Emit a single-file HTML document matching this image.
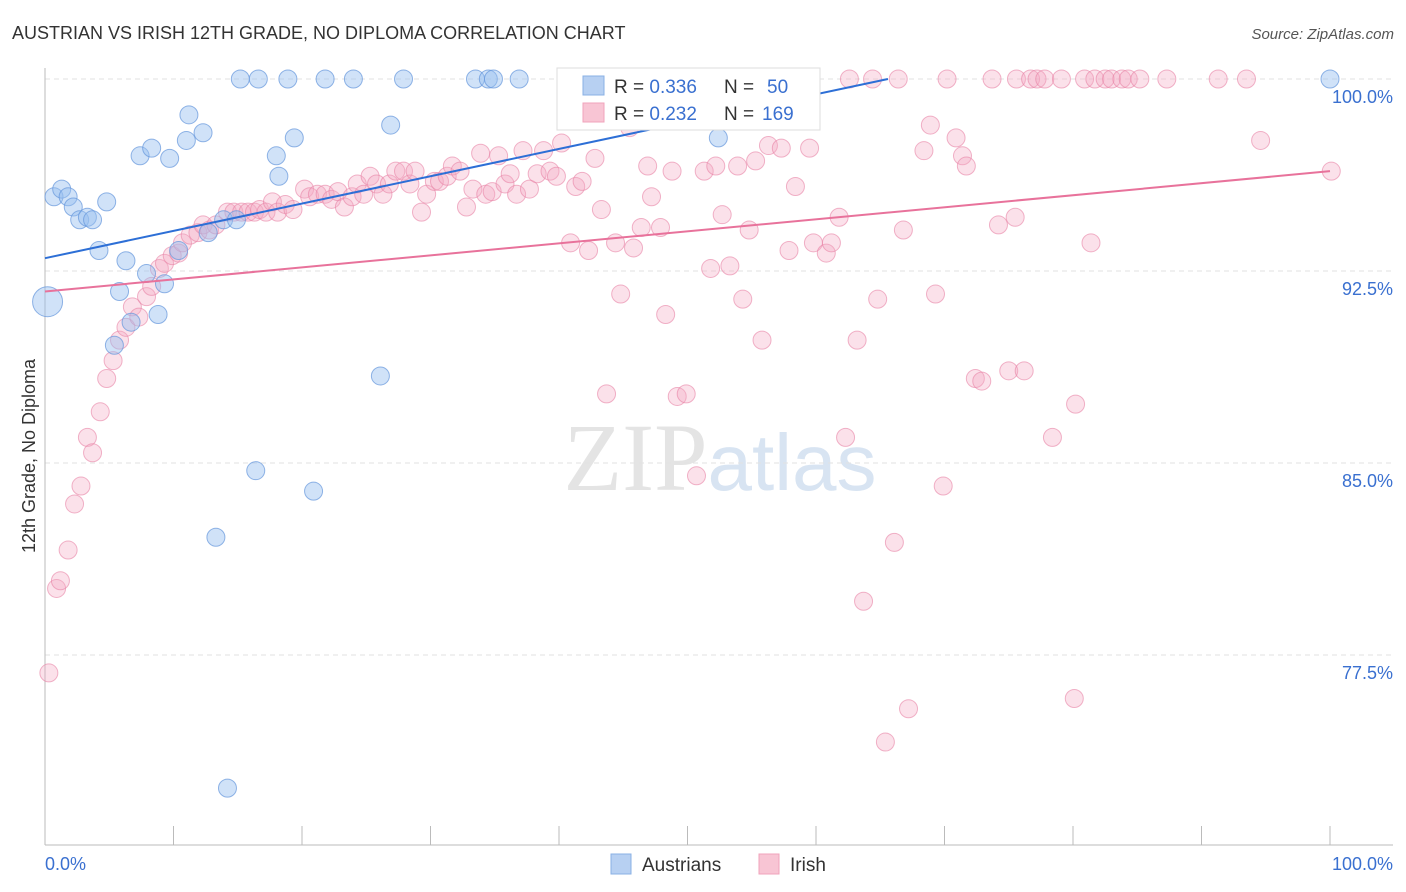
<!DOCTYPE html>
<html><head><meta charset="utf-8"><style>
body{margin:0;background:#fff;font-family:"Liberation Sans",sans-serif;}
svg{display:block}
</style></head><body>
<svg id="chart" width="1406" height="892">
<text x="12" y="39" font-size="18" fill="#333">AUSTRIAN VS IRISH 12TH GRADE, NO DIPLOMA CORRELATION CHART</text>
<text x="1394" y="39" font-size="15" fill="#555" font-style="italic" text-anchor="end">Source: ZipAtlas.com</text>
<text x="720" y="490" font-size="96" fill="#e4e4e4" text-anchor="middle" font-family="Liberation Serif,serif">ZIP<tspan fill="#d8e4f2" font-family="Liberation Sans,sans-serif" font-size="80">atlas</tspan></text>
<text transform="translate(35,456) rotate(-90)" font-size="18" fill="#333" text-anchor="middle">12th Grade, No Diploma</text>
<g id="grid"></g><g id="pts"></g><g id="trend"></g>
<g>
<rect x="557" y="68" width="263" height="62" fill="#fff" stroke="#ddd"/>
<rect x="583" y="76" width="21" height="19" fill="#b7d0f2" stroke="#8ab0e4"/>
<rect x="583" y="103" width="21" height="19" fill="#f8c5d4" stroke="#f0a3bb"/>
<text x="614" y="93" font-size="19" fill="#333">R = <tspan fill="#3a70d0">0.336</tspan><tspan x="724">N = </tspan><tspan x="767" fill="#3a70d0">50</tspan></text>
<text x="614" y="120" font-size="19" fill="#333">R = <tspan fill="#3a70d0">0.232</tspan><tspan x="724">N = </tspan><tspan x="762" fill="#3a70d0">169</tspan></text>
</g>
<g>
<rect x="611" y="854" width="20" height="20" fill="#b7d0f2" stroke="#8ab0e4"/>
<text x="642" y="871" font-size="19" fill="#333">Austrians</text>
<rect x="759" y="854" width="20" height="20" fill="#f8c5d4" stroke="#f0a3bb"/>
<text x="790" y="871" font-size="19" fill="#333">Irish</text>
</g>
</svg>
<script>
const yTicks=[100,92.5,85,77.5];
const yTickLabels=["100.0%","92.5%","85.0%","77.5%"];
const xTickLabels=["0.0%","100.0%"];
const blueX=[15.2,16.6,18.9,21.8,24.0,27.9,33.5,34.5,34.9,36.9,100,41.4,47.5,0.7,1.3,1.8,2.2,2.7,3.3,3.7,4.8,4.2,6.3,7.4,8.3,9.7,11.2,11.0,12.3,7.9,5.8,9.3,6.7,5.4,8.8,10.4,12.7,13.9,14.9,18.0,18.2,19.4,26.9,52.4,26.1,16.4,20.9,13.3,14.2,0.2];
const blueY=[100,100,100,100,100,100,100,100,100,100,100,100,100,95.4,95.7,95.4,95.0,94.5,94.6,94.5,95.2,93.3,92.9,97.0,97.3,96.9,98.6,97.6,97.9,92.4,91.7,92.0,90.5,89.6,90.8,93.3,94.0,94.5,94.5,97.0,96.2,97.7,98.2,97.7,88.4,84.7,83.9,82.1,72.3,91.3];
const pinkX=[58.8,62.6,64.4,66.4,70.2,73.7,75.6,76.7,77.2,77.8,79.1,80.9,81.7,82.5,83.0,83.8,84.3,85.2,87.3,91.3,93.5,
0.3,0.9,1.2,1.8,2.3,2.8,3.3,3.7,4.3,4.8,5.3,5.8,6.3,6.8,7.3,7.9,8.3,8.9,9.3,9.9,10.4,10.7,11.3,11.9,12.3,12.8,13.3,14.2,14.7,15.3,15.8,16.3,16.7,17.2,17.7,18.1,18.7,19.3,20.2,20.6,21.2,21.8,22.3,22.8,23.3,23.9,24.3,24.8,25.3,25.8,26.3,26.8,27.3,27.9,28.4,28.8,29.3,29.7,30.3,30.7,31.3,31.7,32.3,32.8,33.3,33.9,34.3,34.8,35.3,35.8,36.2,36.7,37.2,37.7,38.3,38.8,39.3,39.8,40.2,40.9,41.3,41.8,42.3,42.8,43.3,43.7,44.4,44.8,45.5,45.8,46.4,46.9,47.2,47.9,48.3,48.8,49.2,49.9,50.7,51.3,51.8,52.2,52.7,53.3,53.9,54.3,54.8,55.3,55.8,56.3,57.3,57.9,58.4,59.5,59.8,60.8,61.2,61.8,62.3,63.2,63.7,64.8,65.4,66.1,66.8,67.2,68.4,68.9,69.3,69.9,70.9,71.4,71.7,72.4,72.9,74.2,75.0,75.5,76.2,78.4,80.1,80.2,81.4,94.6,100.1];
const pinkY=[100,100,100,100,100,100,100,100,100,100,100,100,100,100,100,100,100,100,100,100,100,
76.8,80.1,80.4,81.6,83.4,84.1,86.0,85.4,87.0,88.3,89.0,89.8,90.3,91.1,90.7,91.5,91.9,92.6,92.8,93.1,93.2,93.6,93.9,94.0,94.3,94.1,94.3,94.8,94.8,94.8,94.8,94.8,94.9,94.8,95.2,94.8,95.1,94.9,95.7,95.4,95.5,95.5,95.3,95.6,95.0,95.4,95.9,95.5,96.2,95.9,95.5,95.9,96.4,96.4,95.9,96.4,94.8,95.5,96.0,96.0,96.2,96.6,96.4,95.0,95.7,97.1,95.5,95.6,97.0,95.9,96.3,95.5,97.2,95.7,96.3,97.2,96.4,96.2,97.5,93.6,95.8,96.0,93.3,96.9,94.9,87.7,93.6,91.6,98.1,93.4,94.2,96.6,95.4,94.2,90.8,96.4,87.6,87.7,84.5,96.4,92.6,96.6,94.7,92.7,96.6,91.4,94.1,96.8,89.8,97.4,97.3,93.3,95.8,97.3,93.6,93.2,93.6,94.6,86.0,89.8,79.6,91.4,74.1,81.9,94.1,75.4,97.2,98.2,91.6,84.1,97.7,97.0,96.6,88.3,88.2,94.3,88.6,94.6,88.6,86.0,75.8,87.3,93.6,97.6,96.4];
const blueTrend=[[0,93.0],[65.6,100]];
const pinkTrend=[[0,91.7],[100,96.4]];
const NS="http://www.w3.org/2000/svg";
const X=v=>45+v*12.85, Y=v=>79+(100-v)*25.6;
function mk(tag,attrs,parent){const e=document.createElementNS(NS,tag);for(const k in attrs)e.setAttribute(k,attrs[k]);document.getElementById(parent).appendChild(e);return e;}
yTicks.forEach((t,i)=>{
 const l=mk('line',{x1:45,x2:1393,y1:Y(t),y2:Y(t),stroke:'#e2e2e2','stroke-dasharray':'5,4'},'grid');
 
 
 const tx=mk('text',{x:1393,y:Y(t)+24,'font-size':18,fill:'#3a70d0','text-anchor':'end'},'grid');tx.textContent=yTickLabels[i];
 
 
});
const ax=mk('line',{x1:45,x2:1393,y1:845,y2:845,stroke:'#bbb'},'grid');


const ay=mk('line',{x1:45,x2:45,y1:68,y2:845,stroke:'#bbb'},'grid');


for(let i=0;i<=10;i++){const t=mk('line',{x1:X(i*10),x2:X(i*10),y1:826,y2:845,stroke:'#bbb'},'grid');
 
 }
[[0,'start',45],[100,'end',1393]].forEach((d,i)=>{const t=mk('text',{x:d[2],y:870,'font-size':18,fill:'#3a70d0','text-anchor':d[1]},'grid');t.textContent=xTickLabels[i];
 
 });
pinkX.forEach((v,i)=>{const c=mk('circle',{cx:X(v),cy:Y(pinkY[i]),r:9,fill:'rgba(244,170,195,0.35)',stroke:'rgba(232,130,165,0.6)'},'pts');
 
 });
blueX.forEach((v,i)=>{const c=mk('circle',{cx:X(v),cy:Y(blueY[i]),r:i===blueX.length-1?15:9,fill:'rgba(150,190,240,0.45)',stroke:'rgba(100,150,220,0.7)'},'pts');
 
 });
const bl=mk('line',{x1:X(blueTrend[0][0]),y1:Y(blueTrend[0][1]),x2:X(blueTrend[1][0]),y2:Y(blueTrend[1][1]),stroke:'#2d6fd6','stroke-width':2},'trend');


const pl=mk('line',{x1:X(pinkTrend[0][0]),y1:Y(pinkTrend[0][1]),x2:X(pinkTrend[1][0]),y2:Y(pinkTrend[1][1]),stroke:'#e8729b','stroke-width':2},'trend');


</script>
</body></html>
